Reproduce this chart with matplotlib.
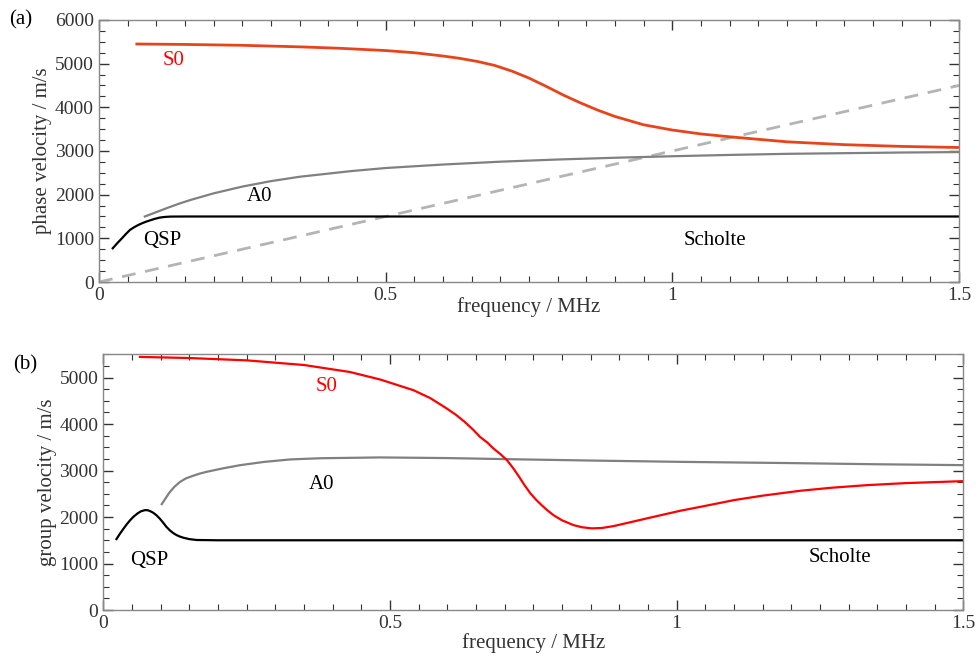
import numpy as np
import matplotlib.pyplot as plt
from matplotlib.ticker import MultipleLocator

plt.rcParams['font.family'] = ['Liberation Serif', 'DejaVu Serif']
plt.rcParams['font.size'] = 15

# (a) phase velocity
f_s0_ph = [0.066, 0.15, 0.25, 0.35, 0.42, 0.50, 0.55, 0.60, 0.63, 0.66, 0.69, 0.72,
           0.75, 0.78, 0.81, 0.84, 0.87, 0.90, 0.95, 1.00, 1.05, 1.10, 1.20, 1.30,
           1.40, 1.50]
v_s0_ph = [5450, 5440, 5420, 5385, 5352, 5300, 5250, 5175, 5120, 5050, 4960, 4830,
           4670, 4480, 4280, 4100, 3935, 3790, 3600, 3480, 3390, 3325, 3210, 3145,
           3105, 3080]
f_a0_ph = [0.08, 0.10, 0.12, 0.14, 0.16, 0.20, 0.25, 0.30, 0.35, 0.44, 0.50, 0.60,
           0.70, 0.80, 0.90, 1.00, 1.10, 1.20, 1.30, 1.40, 1.50]
v_a0_ph = [1500, 1600, 1700, 1795, 1880, 2030, 2185, 2310, 2410, 2540, 2610, 2690,
           2755, 2805, 2845, 2880, 2910, 2935, 2950, 2965, 2975]
f_qsp_ph = [0.024, 0.032, 0.04, 0.047, 0.054, 0.062, 0.07, 0.077, 0.083, 0.09,
            0.097, 0.106, 0.115, 0.125, 0.15, 1.5]
v_qsp_ph = [772, 890, 1000, 1100, 1192, 1260, 1315, 1355, 1385, 1415,
            1445, 1475, 1490, 1498, 1500, 1500]
f_water = [0.0, 1.5]
v_water = [0, 4500]

# (b) group velocity
f_s0_gr = [0.064, 0.15, 0.25, 0.35, 0.43, 0.483, 0.541, 0.57, 0.599, 0.615, 0.63,
           0.645, 0.657, 0.67, 0.68, 0.692, 0.704, 0.715, 0.725, 0.735, 0.745, 0.755,
           0.765, 0.775, 0.785, 0.80, 0.82, 0.835, 0.852, 0.87, 0.89, 0.92, 0.948,
           1.006, 1.05, 1.10, 1.15, 1.215, 1.27, 1.332, 1.40, 1.50]
v_s0_gr = [5444, 5420, 5370, 5270, 5120, 4958, 4728, 4560, 4335, 4200, 4050,
           3880, 3725, 3600, 3480, 3360, 3224, 3050, 2870, 2680, 2508, 2370,
           2250, 2140, 2042, 1930, 1827, 1780, 1756, 1765, 1805, 1890, 1971,
           2134, 2240, 2364, 2460, 2564, 2630, 2686, 2730, 2772]
f_a0_gr = [0.102, 0.108, 0.115, 0.124, 0.134, 0.144, 0.155, 0.167, 0.18, 0.21, 0.239,
           0.28, 0.326, 0.38, 0.43, 0.483, 0.6, 0.704, 0.85, 1.006, 1.2, 1.35, 1.5]
v_a0_gr = [2278, 2390, 2520, 2650, 2757, 2830, 2880, 2930, 2972, 3050, 3116,
           3185, 3239, 3265, 3273, 3282, 3268, 3245, 3215, 3187, 3160, 3135, 3116]
f_qsp_gr = [0.023, 0.029, 0.035, 0.041, 0.047, 0.053, 0.06, 0.066, 0.073, 0.078,
            0.083, 0.088, 0.093, 0.099, 0.105, 0.11, 0.116, 0.122, 0.128, 0.134,
            0.14, 0.15, 0.163, 0.2, 1.5]
v_qsp_gr = [1526, 1640, 1745, 1845, 1934, 2010, 2080, 2125, 2149, 2145,
            2120, 2085, 2035, 1960, 1870, 1790, 1715, 1655, 1610, 1578,
            1554, 1525, 1506, 1500, 1500]

fig = plt.figure(figsize=(9.78, 6.64), dpi=100)
ax1 = fig.add_axes([0.1012, 0.5753, 0.8794, 0.3946])
ax2 = fig.add_axes([0.1056, 0.0813, 0.8794, 0.3851])


def style(ax, ymax):
    ax.set_xlim(0, 1.5)
    ax.set_ylim(0, ymax)
    ax.xaxis.set_minor_locator(MultipleLocator(0.05))
    ax.yaxis.set_major_locator(MultipleLocator(1000))
    ax.yaxis.set_minor_locator(MultipleLocator(250))
    ax.set_xticks([0, 0.5, 1, 1.5])
    ax.set_xticklabels(['0', '0.5', '1', '1.5'])
    ax.tick_params(which='both', direction='in', top=True, right=True,
                   color='#333333', labelcolor='#333333', labelsize=14)
    ax.tick_params(which='major', length=7, width=1)
    ax.tick_params(which='minor', length=4, width=0.8)
    for s in ax.spines.values():
        s.set_color('#888888')
        s.set_linewidth(1)


# top panel
style(ax1, 6000)
ax1.plot(f_water, v_water, color='#b4b4b4', lw=2, dashes=(5, 3.5))
ax1.plot(f_qsp_ph, v_qsp_ph, color='black', lw=1.6)
ax1.plot(f_a0_ph, v_a0_ph, color='#808080', lw=1.6)
ax1.plot(f_s0_ph, v_s0_ph, color='#e8441c', lw=2.0)
ax1.text(0.13, 5080, 'S0', color='red', ha='center', va='center')
ax1.text(0.28, 1950, 'A0', color='black', ha='center', va='center')
ax1.text(0.11, 940, 'QSP', color='black', ha='center', va='center')
ax1.text(1.075, 960, 'Scholte', color='black', ha='center', va='center')
ax1.set_ylabel('phase velocity / m/s', color='#333333', labelpad=2)
ax1.set_xlabel('frequency / MHz', color='#333333', labelpad=-5)

# bottom panel
style(ax2, 5500)
ax2.plot(f_qsp_gr, v_qsp_gr, color='black', lw=1.6)
ax2.plot(f_a0_gr, v_a0_gr, color='#808080', lw=1.6)
ax2.plot(f_s0_gr, v_s0_gr, color='red', lw=1.6)
ax2.text(0.39, 4810, 'S0', color='red', ha='center', va='center')
ax2.text(0.38, 2710, 'A0', color='black', ha='center', va='center')
ax2.text(0.08, 1075, 'QSP', color='black', ha='center', va='center')
ax2.text(1.285, 1140, 'Scholte', color='black', ha='center', va='center')
ax2.set_ylabel('group velocity / m/s', color='#333333', labelpad=2)
ax2.set_xlabel('frequency / MHz', color='#333333', labelpad=1)

fig.text(0.0215, 0.97, '(a)', ha='center', va='center')
fig.text(0.026, 0.45, '(b)', ha='center', va='center')

fig.savefig('out.png', dpi=100)
